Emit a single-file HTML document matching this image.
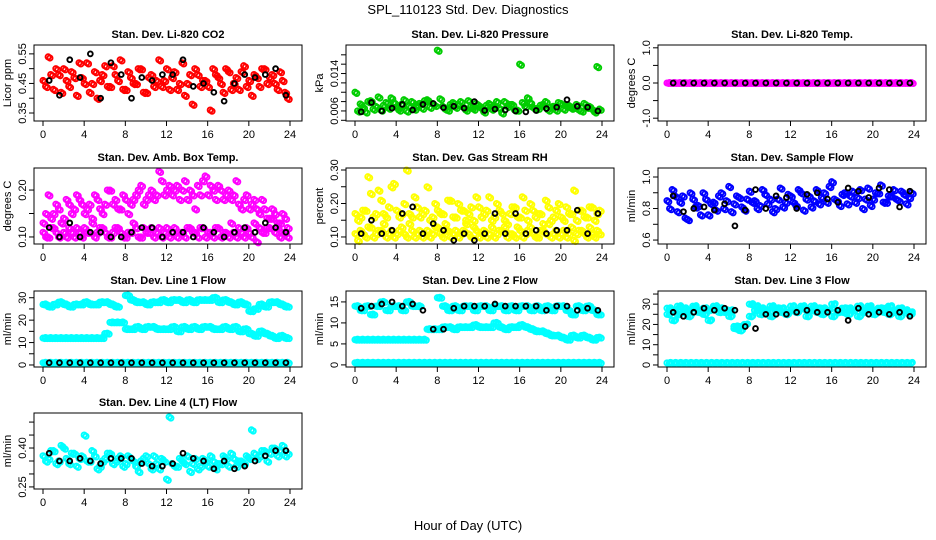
<!DOCTYPE html>
<html><head><meta charset="utf-8">
<style>
html,body{margin:0;padding:0;background:#fff;}
svg{display:block;font-family:"Liberation Sans",sans-serif;}
.tk{font-size:11px;fill:#000;}
.pt{font-size:11px;font-weight:bold;fill:#000;}
</style></head>
<body>
<svg id="chart" width="936" height="540" viewBox="0 0 936 540" xmlns="http://www.w3.org/2000/svg">
<text x="468" y="14" text-anchor="middle" font-size="13">SPL_110123  Std. Dev. Diagnostics</text>
<text x="468" y="530" text-anchor="middle" font-size="13">Hour of Day (UTC)</text>
</svg>
<script>
// ---- data ----
const hourTicks = [0,4,8,12,16,20,24];
const co2A = [0.46,0.54,0.43,0.48,0.50,0.44,0.47,0.52,0.45,0.42,0.49,0.46,0.51,0.44,0.48,0.53,0.43,0.47,0.45,0.50,0.42,0.48,0.46,0.44,0.50,0.47,0.43,0.52,0.45,0.38,0.48,0.46,0.44,0.50,0.47,0.42,0.49,0.45,0.43,0.51,0.46,0.48,0.44,0.50,0.47,0.45,0.49,0.42];
const co2B = [0.44,0.48,0.50,0.42,0.46,0.49,0.41,0.47,0.52,0.45,0.40,0.48,0.44,0.51,0.46,0.43,0.49,0.45,0.50,0.42,0.47,0.44,0.53,0.46,0.43,0.49,0.45,0.41,0.48,0.50,0.44,0.46,0.36,0.48,0.45,0.50,0.43,0.47,0.49,0.44,0.41,0.47,0.50,0.45,0.48,0.43,0.46,0.40];
const co2K = [0.46,0.41,0.53,0.47,0.55,0.40,0.52,0.48,0.40,0.47,0.46,0.48,0.48,0.53,0.44,0.45,0.42,0.39,0.45,0.48,0.47,0.48,0.50,0.41];
const presA = [.0100,.0075,.0058,.0082,.0070,.0062,.0078,.0088,.0068,.0074,.0060,.0080,.0072,.0066,.0084,.0076,.0190,.0070,.0062,.0078,.0074,.0068,.0082,.0064,.0072,.0058,.0076,.0070,.0066,.0080,.0074,.0062,.0160,.0070,.0078,.0064,.0072,.0080,.0068,.0062,.0076,.0070,.0066,.0074,.0060,.0068,.0064,.0155];
const presB = [.0060,.0068,.0080,.0064,.0090,.0072,.0066,.0078,.0062,.0084,.0070,.0064,.0076,.0082,.0068,.0072,.0086,.0064,.0074,.0068,.0080,.0062,.0070,.0076,.0066,.0072,.0064,.0080,.0056,.0070,.0074,.0062,.0078,.0088,.0068,.0066,.0074,.0062,.0070,.0078,.0064,.0072,.0068,.0062,.0076,.0070,.0058,.0064];
const presK = [.0058,.0078,.0060,.0066,.0074,.0062,.0074,.0076,.0067,.0070,.0066,.0080,.0061,.0064,.0062,.0060,.0058,.0061,.0065,.0068,.0084,.0070,.0068,.0060];
const tempA = [0,0,0,0,0,0,0,0,0,0,0,0,0,0,0,0,0,0,0,0,0,0,0,0,0,0,0,0,0,0,0,0,0,0,0,0,0,0,0,0,0,0,0,0,0,0,0,0];
const tempK = [0,0,0,0,0,0,0,0,0,0,0,0,0,0,0,0,0,0,0,0,0,0,0,0];
const ambUpA = [0.13,0.19,0.15,0.16,0.14,0.17,0.16,0.18,0.15,0.17,0.19,0.16,0.17,0.20,0.18,0.16,0.18,0.17,0.19,0.21,0.18,0.20,0.19,0.22,0.20,0.19,0.21,0.20,0.18,0.19,0.21,0.22,0.19,0.20,0.21,0.18,0.20,0.19,0.17,0.18,0.16,0.18,0.15,0.16,0.14,0.15,0.13,0.14];
const ambUpB = [0.15,0.14,0.17,0.13,0.18,0.15,0.19,0.17,0.16,0.14,0.18,0.15,0.20,0.17,0.16,0.19,0.15,0.18,0.20,0.17,0.19,0.18,0.24,0.19,0.21,0.20,0.18,0.22,0.20,0.16,0.19,0.23,0.21,0.18,0.20,0.19,0.18,0.22,0.16,0.19,0.17,0.16,0.18,0.14,0.16,0.13,0.15,0.12];
const ambLoA = [0.11,0.10,0.12,0.10,0.11,0.12,0.10,0.11,0.12,0.11,0.10,0.12,0.11,0.10,0.12,0.11,0.10,0.11,0.12,0.10,0.11,0.12,0.11,0.10,0.12,0.11,0.10,0.11,0.12,0.11,0.10,0.12,0.11,0.10,0.12,0.11,0.10,0.11,0.12,0.10,0.11,0.13,0.12,0.11,0.12,0.11,0.10,0.11];
const ambLoB = [0.10,0.12,0.11,0.13,0.10,0.11,0.12,0.10,0.11,0.13,0.11,0.12,0.10,0.11,0.12,0.10,0.11,0.13,0.10,0.12,0.11,0.10,0.12,0.11,0.10,0.12,0.11,0.10,0.12,0.11,0.12,0.10,0.11,0.12,0.10,0.11,0.13,0.10,0.11,0.12,0.10,0.09,0.11,0.12,0.14,0.12,0.11,0.10];
const ambK = [0.12,0.10,0.13,0.10,0.11,0.11,0.10,0.10,0.11,0.12,0.12,0.10,0.11,0.11,0.10,0.12,0.11,0.10,0.11,0.12,0.11,0.13,0.12,0.11];
const rhUpA = [0.17,0.16,0.18,0.23,0.17,0.21,0.16,0.25,0.18,0.17,0.30,0.16,0.19,0.17,0.25,0.16,0.18,0.17,0.21,0.16,0.20,0.18,0.17,0.15,0.19,0.17,0.22,0.16,0.18,0.15,0.17,0.19,0.16,0.18,0.20,0.16,0.17,0.21,0.15,0.18,0.16,0.19,0.17,0.15,0.18,0.16,0.19,0.17];
const rhUpB = [0.15,0.18,0.28,0.16,0.24,0.17,0.19,0.26,0.16,0.20,0.17,0.22,0.16,0.18,0.15,0.20,0.17,0.14,0.21,0.16,0.18,0.15,0.19,0.22,0.16,0.18,0.15,0.20,0.17,0.14,0.19,0.16,0.22,0.15,0.18,0.17,0.14,0.19,0.16,0.20,0.15,0.17,0.24,0.18,0.16,0.19,0.15,0.18];
const rhLoA = [0.11,0.12,0.10,0.13,0.11,0.12,0.10,0.12,0.11,0.13,0.10,0.12,0.11,0.10,0.12,0.11,0.13,0.10,0.12,0.11,0.10,0.12,0.11,0.13,0.10,0.12,0.11,0.10,0.12,0.13,0.11,0.10,0.12,0.11,0.13,0.10,0.12,0.11,0.10,0.12,0.11,0.10,0.13,0.11,0.12,0.10,0.11,0.12];
const rhLoB = [0.09,0.11,0.13,0.10,0.12,0.14,0.11,0.10,0.12,0.11,0.14,0.10,0.12,0.11,0.10,0.13,0.11,0.12,0.10,0.12,0.11,0.14,0.10,0.12,0.11,0.10,0.13,0.11,0.12,0.10,0.11,0.13,0.10,0.12,0.11,0.10,0.12,0.14,0.11,0.10,0.12,0.11,0.09,0.12,0.11,0.13,0.10,0.11];
const rhK = [0.11,0.15,0.11,0.12,0.17,0.19,0.11,0.14,0.12,0.09,0.11,0.09,0.11,0.17,0.11,0.17,0.11,0.12,0.11,0.12,0.12,0.18,0.11,0.17];
const flowA = [0.85,0.92,0.78,0.88,0.73,0.86,0.82,0.90,0.76,0.84,0.88,0.80,0.94,0.83,0.87,0.79,0.91,0.85,0.82,0.89,0.86,0.80,0.93,0.84,0.88,0.82,0.90,0.86,0.81,0.92,0.87,0.84,0.97,0.85,0.89,0.83,0.91,0.87,0.80,0.93,0.86,0.90,0.84,0.88,0.92,0.85,0.89,0.87];
const flowB = [0.80,0.88,0.84,0.74,0.90,0.81,0.76,0.86,0.83,0.79,0.90,0.85,0.78,0.88,0.81,0.86,0.84,0.80,0.92,0.83,0.78,0.86,0.81,0.89,0.84,0.92,0.79,0.88,0.85,0.83,0.90,0.94,0.86,0.82,0.90,0.88,0.84,0.92,0.86,0.82,0.90,0.95,0.84,0.88,0.86,0.91,0.83,0.90];
const flowK = [0.88,0.78,0.80,0.81,0.79,0.83,0.69,0.79,0.92,0.80,0.88,0.87,0.80,0.89,0.90,0.86,0.84,0.93,0.91,0.87,0.93,0.92,0.81,0.91];
const l1Top = [27,26,27,28,27,26,27,27,28,27,27,28,28,27,26,null,31,29,28,28,27,28,28,29,28,29,29,28,29,28,29,29,29,30,28,29,28,27,28,27,24,25,27,26,28,28,27,26];
const l1Mid = [12,12,12,12,12,12,12,12,12,12,12,12,14,19,19,19,16,16,17,16,17,17,16,16,16,17,15,17,16,17,16,17,17,16,16,17,16,17,15,16,14,13,15,14,13,12,13,12];
const l1Low = [1,1,1,1,1,1,1,1,1,1,1,1,1,1,1,1,1,1,1,1,1,1,1,1,1,1,1,1,1,1,1,1,1,1,1,1,1,1,1,1,1,1,1,1,1,1,1,1];
const l1K = [1,1,1,1,1,1,1,1,1,1,1,1,1,1,1,1,1,1,1,1,1,1,1,1];
const l2Top = [14,13,14,12,14,15,13,14,14,13,15,14,14,null,null,null,16,14,13,14,13,14,14,13,14,14,13,14,14,13,14,13,14,14,13,14,13,14,13,14,14,13,12,14,13,14,13,12];
const l2Mid = [6,6,6,6,6,6,6,6,6,6,6,6,6,6,8.5,8.5,8.5,9,9,8.5,9,9,9,9.5,9,9,9,10,9,8.5,9,9,9.5,9,8.5,8,8,7.5,7,7,6.5,6,7,6.5,7,6.5,6,6.5];
const l2Low = [0.5,0.5,0.5,0.5,0.5,0.5,0.5,0.5,0.5,0.5,0.5,0.5,0.5,0.5,0.5,0.5,0.5,0.5,0.5,0.5,0.5,0.5,0.5,0.5,0.5,0.5,0.5,0.5,0.5,0.5,0.5,0.5,0.5,0.5,0.5,0.5,0.5,0.5,0.5,0.5,0.5,0.5,0.5,0.5,0.5,0.5,0.5,0.5];
const l2K = [13.5,14,14.5,15,14,14.5,13,8.5,8.5,13.5,14,14,14,14.5,14,14,14,14,13,14,14,13,13.5,13];
const l3Top = [28,27,25,28,27,29,26,28,27,29,28,26,27,19,19,20,30,27,28,26,29,27,28,26,29,27,28,27,29,26,28,27,30,27,26,28,27,29,26,28,27,28,26,29,27,28,27,26];
const l3Alt = [25,22,29,26,24,28,27,25,22,28,26,27,24,18,17,null,24,29,25,27,24,28,26,25,27,26,29,24,27,28,25,27,24,26,28,25,27,24,27,29,25,27,28,25,26,24,27,25];
const l3Low = [1,1,1,1,1,1,1,1,1,1,1,1,1,1,1,1,1,1,1,1,1,1,1,1,1,1,1,1,1,1,1,1,1,1,1,1,1,1,1,1,1,1,1,1,1,1,1,1];
const l3K = [26,24,26,28,27,28,27,19,18,25,25,25,26,27,26,26,27,22,28,25,26,25,26,24];
const l4A = [0.37,0.36,0.39,0.35,0.40,0.34,0.38,0.36,0.45,0.35,0.37,0.33,0.36,0.38,0.35,0.37,0.34,0.36,0.33,0.35,0.37,0.32,0.34,0.36,0.28,0.34,0.33,0.35,0.37,0.34,0.32,0.36,0.33,0.35,0.34,0.37,0.33,0.36,0.35,0.34,0.36,0.38,0.37,0.39,0.38,0.40,0.39,0.37];
const l4B = [0.35,0.39,0.34,0.41,0.36,0.38,0.33,0.37,0.35,0.39,0.32,0.35,0.38,0.34,0.36,0.33,0.37,0.35,0.31,0.36,0.34,0.37,0.32,0.35,0.52,0.33,0.36,0.34,0.31,0.36,0.33,0.35,0.37,0.32,0.34,0.36,0.38,0.33,0.35,0.37,0.47,0.36,0.39,0.35,0.40,0.37,0.41,0.38];
const l4K = [0.38,0.35,0.35,0.36,0.35,0.34,0.36,0.36,0.36,0.34,0.33,0.33,0.34,0.38,0.36,0.35,0.32,0.35,0.32,0.33,0.35,0.37,0.39,0.39];

// ---- layout ----
const svg = document.getElementById('chart');
const NS = 'http://www.w3.org/2000/svg';
function mk(tag, attrs, parent){const e=document.createElementNS(NS,tag);for(const k in attrs)e.setAttribute(k,attrs[k]);(parent||svg).appendChild(e);return e;}
const colLeft=[34,346,658], rowTop=[45,168,291,413], boxW=268, boxH=76;

// each half-hour value is drawn as a small run of samples spanning its interval
const panels=[
 {name:'co2',title:'Stan. Dev. Li-820 CO2',ylab:'Licor ppm',c:0,r:0,ylim:[0.323,0.58],ticks:[0.35,0.40,0.45,0.50,0.55],labels:[[0.35,'0.35'],[0.45,'0.45'],[0.55,'0.55']],col:'#ff0000',series:[co2A,co2B],black:co2K,fill:2},
 {name:'pressure',title:'Stan. Dev. Li-820 Pressure',ylab:'kPa',c:1,r:0,ylim:[0.00385,0.0201],ticks:[0.004,0.006,0.008,0.010,0.012,0.014,0.016,0.018],labels:[[0.006,'0.006'],[0.014,'0.014']],col:'#00cd00',series:[presA,presB],black:presK,fill:2},
 {name:'temp',title:'Stan. Dev. Li-820 Temp.',ylab:'degrees C',c:2,r:0,ylim:[-1.08,1.08],ticks:[-1,-0.5,0,0.5,1],labels:[[-1,'-1.0'],[0,'0.0'],[1,'1.0']],col:'#ff00ff',series:[tempA],black:tempK,fill:4},
 {name:'amb-box-temp',title:'Stan. Dev. Amb. Box Temp.',ylab:'degrees C',c:0,r:1,ylim:[0.085,0.247],ticks:[0.10,0.15,0.20],labels:[[0.10,'0.10'],[0.20,'0.20']],col:'#ff00ff',series:[ambUpA,ambUpB,ambLoA,ambLoB],black:ambK,fill:2},
 {name:'gas-rh',title:'Stan. Dev. Gas Stream RH',ylab:'percent',c:1,r:1,ylim:[0.079,0.306],ticks:[0.10,0.15,0.20,0.25,0.30],labels:[[0.10,'0.10'],[0.20,'0.20'],[0.30,'0.30']],col:'#ffff00',series:[rhUpA,rhUpB,rhLoA,rhLoB],black:rhK,fill:2},
 {name:'sample-flow',title:'Stan. Dev. Sample Flow',ylab:'ml/min',c:2,r:1,ylim:[0.575,1.057],ticks:[0.6,0.7,0.8,0.9,1.0],labels:[[0.6,'0.6'],[0.8,'0.8'],[1.0,'1.0']],col:'#0000ff',series:[flowA,flowB],black:flowK,fill:2},
 {name:'line1-flow',title:'Stan. Dev. Line 1 Flow',ylab:'ml/min',c:0,r:2,ylim:[-0.9,33],ticks:[0,5,10,15,20,25,30],labels:[[0,'0'],[10,'10'],[20,'20'],[30,'30']],col:'#00ffff',series:[l1Top,l1Mid,l1Low],black:l1K,fill:4},
 {name:'line2-flow',title:'Stan. Dev. Line 2 Flow',ylab:'ml/min',c:1,r:2,ylim:[-0.5,17.6],ticks:[0,5,10,15],labels:[[0,'0'],[5,'5'],[10,'10'],[15,'15']],col:'#00ffff',series:[l2Top,l2Mid,l2Low],black:l2K,fill:4},
 {name:'line3-flow',title:'Stan. Dev. Line 3 Flow',ylab:'ml/min',c:2,r:2,ylim:[-1,36.5],ticks:[0,5,10,15,20,25,30,35],labels:[[0,'0'],[10,'10'],[20,'20'],[30,'30']],col:'#00ffff',series:[l3Top,l3Alt,l3Low],black:l3K,fill:3},
 {name:'line4-flow',title:'Stan. Dev. Line 4 (LT) Flow',ylab:'ml/min',c:0,r:3,ylim:[0.242,0.535],ticks:[0.25,0.30,0.35,0.40,0.45,0.50],labels:[[0.25,'0.25'],[0.40,'0.40']],col:'#00ffff',series:[l4A,l4B],black:l4K,fill:2}
];

panels.forEach(p=>{
  const L=colLeft[p.c], T=rowTop[p.r], R=L+boxW, B=T+boxH;
  const xs=h=>L+9+h*(247/24);
  const ys=v=>B-(v-p.ylim[0])/(p.ylim[1]-p.ylim[0])*boxH;
  const g=mk('g',{});
  
  
  const t=mk('text',{x:(L+R)/2,y:T-7,'text-anchor':'middle',class:'pt'},g);t.textContent=p.title;
  
  
  const yl=mk('text',{x:0,y:0,'text-anchor':'middle',class:'tk',transform:`translate(${L-23},${(T+B)/2}) rotate(-90)`},g);yl.textContent=p.ylab;
  
  
  const pg=mk('g',{fill:'none','stroke-width':1.9},g);
  
  
  const nS=p.series.length>1&&p.fill<=2?2:1;
  p.series.forEach((arr,si)=>{
    arr.forEach((v,i)=>{
      if(v===null)return;
      const base=i*0.5+(si%2)*0.25*(nS>1?1:0);
      for(let k=0;k<p.fill;k++){
        const h=base+k*(0.5/p.fill)*(nS>1?0.5:1)+(k%2)*0.05;
        const yo=(k%2?1.2:-1.2)*(p.fill<=2?1:0.4);
        const c=mk('circle',{cx:xs(h),cy:ys(v)+(k?yo:0),r:2.6,stroke:p.col},pg);
        
        
      }
    });
  });
  p.black.forEach((v,i)=>{
    const c=mk('circle',{cx:xs(i+0.6),cy:ys(v),r:2.4,stroke:'#000'},pg);
    
    
  });
  const bx=mk('rect',{x:L,y:T,width:boxW,height:boxH,fill:'none',stroke:'#000','stroke-width':1},g);
  
  
  const xa=mk('g',{stroke:'#000'},g);
  
  
  mk('line',{x1:xs(0),x2:xs(24),y1:B,y2:B},xa);
  hourTicks.forEach(h=>{
    mk('line',{x1:xs(h),x2:xs(h),y1:B,y2:B+5},xa);
    const tl=mk('text',{x:xs(h),y:B+17,'text-anchor':'middle',class:'tk',stroke:'none'},xa);tl.textContent=h;
  });
  const ya=mk('g',{stroke:'#000'},g);
  
  
  mk('line',{x1:L,x2:L,y1:ys(p.ticks[0]),y2:ys(p.ticks[p.ticks.length-1])},ya);
  p.ticks.forEach(v=>{mk('line',{x1:L-5,x2:L,y1:ys(v),y2:ys(v)},ya);});
  p.labels.forEach(([v,s])=>{
    const tl=mk('text',{x:0,y:0,'text-anchor':'middle',class:'tk',stroke:'none',transform:`translate(${L-8},${ys(v)}) rotate(-90)`},ya);tl.textContent=s;
  });
});
</script>
</body></html>
